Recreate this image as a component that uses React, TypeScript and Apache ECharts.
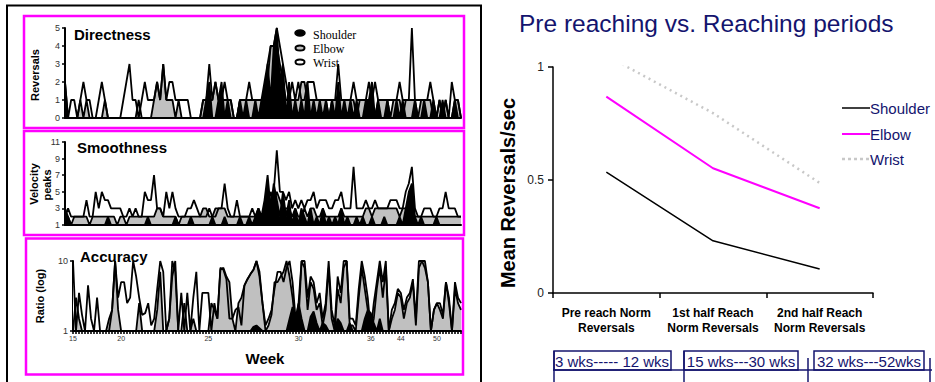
import React, { useEffect, useRef } from "react";
import * as echarts from "echarts";

// ---------- Left panels: sessions (x categories) ----------
const SESSIONS = Array.from({ length: 130 }, (_, i) => String(i + 1));
const WEEK_TICK_INDEX = [0, 16, 45, 75, 99, 109, 121];
const WEEK_TICK_LABEL = ["15", "20", "25", "30", "36", "44", "50"];

// Directness (reversals)
const DIR_WRIST = [
  2, 0, 1, 1, 0, 1, 2, 1, 1, 0,
  0, 1, 2, 1, 0, 0, 0, 0, 0, 1,
  2, 3, 1, 1, 0, 1, 2, 1, 1, 1,
  2, 1, 3, 1, 2, 2, 1, 1, 1, 1,
  1, 0, 0, 0, 0, 1, 1, 3, 1, 2,
  1, 1, 2, 1, 1, 0, 0, 1, 1, 1,
  2, 1, 1, 1, 1, 1, 3, 4, 4, 5,
  4, 3, 2, 1, 2, 1, 2, 1, 1, 2,
  2, 2, 1, 1, 1, 1, 1, 1, 1, 3,
  1, 1, 1, 1, 2, 1, 1, 1, 1, 2,
  1, 2, 1, 1, 1, 1, 1, 1, 1, 2,
  1, 1, 1, 5, 1, 1, 1, 1, 1, 2,
  1, 0, 1, 0, 1, 0, 2, 1, 1, 0,
];
const DIR_ELBOW = [
  1, 0, 0, 0, 0, 1, 0, 1, 0, 0,
  0, 0, 0, 1, 0, 0, 0, 0, 0, 0,
  0, 0, 0, 0, 1, 0, 0, 0, 0, 1,
  2, 1, 3, 1, 1, 1, 0, 1, 0, 0,
  0, 0, 0, 0, 0, 1, 1, 1, 1, 2,
  1, 1, 1, 1, 1, 0, 0, 1, 1, 1,
  1, 1, 1, 1, 1, 1, 2, 4, 4, 4,
  3, 2, 1, 1, 1, 1, 1, 2, 2, 1,
  1, 1, 1, 1, 1, 1, 0, 1, 1, 1,
  1, 1, 1, 1, 1, 0, 1, 1, 1, 1,
  1, 0, 1, 1, 1, 1, 0, 1, 1, 1,
  0, 1, 1, 1, 1, 0, 1, 1, 1, 1,
  0, 0, 1, 0, 1, 0, 0, 1, 1, 0,
];
const DIR_SHOULDER = [
  2, 0, 0, 0, 0, 0, 0, 0, 0, 0,
  0, 0, 0, 0, 0, 0, 0, 0, 0, 0,
  0, 0, 0, 0, 0, 0, 0, 0, 0, 0,
  0, 0, 0, 0, 0, 0, 0, 0, 0, 0,
  0, 0, 0, 0, 0, 0, 1, 2, 0, 0,
  1, 2, 0, 1, 0, 0, 0, 1, 0, 1,
  0, 0, 1, 0, 1, 2, 3, 1, 4, 5,
  2, 3, 0, 2, 0, 1, 0, 1, 0, 2,
  0, 1, 0, 1, 0, 1, 0, 1, 0, 2,
  0, 1, 0, 1, 0, 1, 0, 0, 1, 1,
  2, 0, 1, 0, 0, 1, 0, 0, 1, 0,
  1, 0, 0, 0, 1, 0, 0, 1, 0, 0,
  1, 0, 0, 1, 0, 0, 0, 1, 0, 0,
];

// Smoothness (velocity peaks)
const SMO_WRIST = [
  2, 3, 2, 2, 2, 2, 2, 4, 2, 2,
  5, 3, 5, 4, 4, 3, 3, 3, 3, 2,
  2, 3, 2, 3, 2, 2, 5, 4, 4, 7,
  3, 3, 2, 5, 3, 5, 3, 2, 2, 2,
  3, 3, 4, 3, 2, 2, 2, 3, 2, 2,
  3, 3, 6, 3, 2, 2, 4, 2, 2, 2,
  2, 3, 2, 3, 2, 2, 4, 4, 5, 10,
  5, 5, 4, 5, 3, 4, 3, 4, 3, 4,
  4, 5, 3, 4, 4, 4, 3, 3, 4, 4,
  5, 3, 3, 3, 8, 3, 3, 3, 4, 3,
  3, 4, 3, 3, 3, 3, 4, 4, 4, 3,
  3, 5, 6, 8, 3, 2, 2, 3, 3, 3,
  2, 2, 3, 3, 5, 3, 3, 3, 2, 2,
];
const SMO_ELBOW = [
  2, 2, 1, 2, 2, 2, 2, 2, 1, 2,
  2, 2, 2, 2, 2, 2, 2, 1, 2, 2,
  1, 2, 2, 2, 2, 2, 2, 2, 2, 2,
  3, 3, 2, 2, 2, 2, 2, 1, 2, 2,
  2, 2, 2, 2, 2, 3, 3, 2, 2, 3,
  3, 3, 3, 2, 2, 2, 2, 2, 2, 2,
  2, 2, 2, 2, 2, 2, 3, 5, 4, 5,
  4, 3, 3, 3, 2, 3, 2, 2, 3, 2,
  3, 3, 2, 2, 3, 2, 2, 2, 2, 2,
  3, 2, 2, 2, 2, 2, 2, 2, 3, 3,
  2, 3, 3, 3, 3, 3, 3, 3, 3, 2,
  3, 3, 3, 3, 2, 2, 2, 2, 2, 2,
  2, 2, 2, 2, 2, 2, 2, 2, 2, 2,
];
const SMO_SHOULDER = [
  3, 2, 1, 1, 1, 1, 1, 1, 1, 1,
  1, 1, 1, 1, 2, 1, 1, 1, 1, 1,
  1, 1, 1, 1, 1, 1, 1, 2, 1, 1,
  1, 1, 1, 1, 1, 1, 2, 1, 1, 1,
  1, 2, 1, 1, 1, 1, 1, 1, 2, 1,
  1, 1, 2, 1, 1, 1, 1, 2, 1, 1,
  2, 1, 2, 3, 2, 4, 7, 3, 6, 4,
  2, 5, 2, 4, 1, 3, 1, 3, 2, 1,
  3, 1, 2, 1, 3, 1, 2, 1, 2, 1,
  3, 1, 2, 1, 1, 2, 1, 2, 1, 1,
  2, 1, 1, 1, 2, 1, 1, 1, 1, 2,
  1, 3, 5, 6, 2, 1, 2, 1, 1, 1,
  1, 2, 1, 1, 1, 1, 1, 1, 1, 1,
];

// Accuracy (ratio, log scale)
const ACC_WRIST = [
  10, 1, 3.5, 1.7, 1, 4.5, 1.5, 1, 3, 1,
  1, 1, 1, 2, 10, 3, 5, 5, 2.5, 3,
  10, 6, 3, 1.7, 1.8, 2.5, 1.2, 1.5, 4, 10,
  7, 1, 1.5, 6, 10, 1, 3.5, 1, 3.5, 1,
  3, 7, 1, 3.5, 3.5, 3.5, 1, 2.5, 1.5, 8,
  7.5, 5.5, 1.5, 1.5, 2, 2.2, 1.2, 4.5, 5.5, 6.5,
  7.5, 10, 7, 2.5, 1.2, 1.5, 2, 4, 7, 7,
  5, 8, 10, 5, 1.5, 2.5, 10, 10, 3, 6,
  5, 2.5, 3.5, 1.5, 2.5, 10, 2, 1.2, 6, 3.5,
  10, 10, 1.5, 1.5, 1.2, 4, 10, 6, 3, 1,
  2.5, 5, 10, 5, 10, 1, 2, 2.5, 4, 3.5,
  2, 3, 3.5, 5.5, 1.5, 10, 10, 8, 5, 1,
  2, 2.5, 2.5, 1.7, 5, 3, 1, 5, 3, 2.5,
];
const ACC_ELBOW = [
  1, 3, 1.5, 1, 1, 1, 1, 1, 1, 1,
  1, 1, 1.5, 2, 10, 2, 1, 1, 1, 1,
  1, 1, 2.5, 1, 1, 1, 1, 1, 2, 7,
  1, 1, 1.5, 10, 7, 1, 1, 2.5, 1, 1,
  1.5, 1, 1, 1, 1, 1, 2.5, 2, 1.5, 7.5,
  8, 6, 5, 1.5, 1, 2.5, 3, 4.5, 5.5, 6.5,
  7.5, 10, 6, 2.5, 1, 1.2, 1.7, 5, 5, 6,
  7, 10, 6, 3, 1.2, 1.5, 10, 8, 2, 5,
  4, 2, 2.5, 1.2, 2, 8, 1.5, 1, 4, 2.5,
  8, 10, 1.2, 1.2, 1, 3, 8, 4, 2, 1,
  1.5, 4, 8, 3, 8, 1, 1.5, 2, 3.5, 3,
  1.5, 2.5, 3, 5, 1.2, 8, 10, 10, 5, 1,
  2, 2.5, 2, 1.5, 5, 2.5, 1, 4, 2.5, 2,
];
const ACC_SHOULDER = [
  1, 1, 1, 1, 1, 1, 1, 1, 1, 1,
  1, 1, 1, 1, 1, 1, 1, 1, 1, 1,
  1, 1, 1, 1, 1, 1, 1, 1, 1, 1,
  1, 1, 1, 1, 1, 1, 1, 1, 1, 1,
  1, 1, 1, 1, 1, 1, 1, 1, 1, 1,
  1, 1, 1, 1, 1, 1, 1, 1, 1, 1,
  1.15, 1.2, 1.1, 1, 1, 1, 1, 1, 1, 1,
  1, 1, 1.5, 2.2, 1.3, 2.5, 1.5, 1, 1, 1.6,
  1.9, 1.3, 1, 1.3, 1.2, 1, 1, 1, 1.5, 1.3,
  1, 1, 1.3, 1, 1, 1, 1, 1.5, 2, 1.8,
  1.3, 1, 1.5, 1, 1, 1, 1, 1, 1, 1,
  1, 1, 1, 1, 1, 1, 1, 1, 1, 1,
  1, 1, 1, 1, 1, 1, 1, 1, 1, 1,
];

// ---------- Right chart ----------
const PERIODS = ["Pre reach Norm\nReversals", "1st half Reach\nNorm Reversals", "2nd half Reach\nNorm Reversals"];
const SHOULDER_MEAN = [0.535, 0.231, 0.106];
const ELBOW_MEAN = [0.869, 0.552, 0.375];
const WRIST_MEAN = [1.05, 0.796, 0.487];
const AGE_RANGES = ["3 wks----- 12 wks", "15 wks---30 wks", "32 wks---52wks"];

const NAVY = "#14146e";
const PINK = "#ff00ff";
const SANS = "Arial, 'Liberation Sans', sans-serif";

function areaSeries(name: string, data: number[], fill: string, idx: number) {
  return {
    name,
    type: "line",
    data,
    xAxisIndex: idx,
    yAxisIndex: idx,
    symbol: "none",
    silent: true,
    clip: true,
    lineStyle: { color: "#000", width: 1.8 },
    areaStyle: { color: fill, opacity: 1, origin: "start" },
  };
}

function leftX(idx: number, withTicks: boolean) {
  return {
    type: "category",
    gridIndex: idx,
    data: SESSIONS,
    boundaryGap: false,
    axisLine: { show: true, onZero: false, lineStyle: { color: "#000", width: 2 } },
    axisTick: withTicks
      ? { show: true, interval: 0, length: 3, lineStyle: { color: "#000", width: 1.6 } }
      : { show: false },
    axisLabel: withTicks
      ? {
          show: true,
          interval: (i: number) => WEEK_TICK_INDEX.includes(i),
          formatter: (_v: string, i: number) => {
            const k = WEEK_TICK_INDEX.indexOf(i);
            return k >= 0 ? WEEK_TICK_LABEL[k] : "";
          },
          fontSize: 7,
          color: "#333",
          fontFamily: SANS,
          margin: 4,
        }
      : { show: false },
    splitLine: { show: false },
  };
}

function leftYBase(idx: number) {
  return {
    gridIndex: idx,
    axisLine: { show: true, lineStyle: { color: "#000", width: 2 } },
    axisTick: { show: true, length: 3, lineStyle: { color: "#000", width: 1.5 } },
    axisLabel: { fontSize: 9, color: "#333", fontFamily: SANS, margin: 5 },
    splitLine: { show: false },
  };
}

export default function App() {
  const ref = useRef<HTMLDivElement>(null);
  useEffect(() => {
    if (!ref.current) return;
    const chart = echarts.init(ref.current, null, { renderer: "svg" });
    const rotText = (text: string, x: number, y: number, size: number, bold = true, color = "#000") => ({
      type: "text",
      x,
      y,
      rotation: Math.PI / 2,
      style: {
        text,
        fill: color,
        font: `${bold ? "bold " : ""}${size}px ${SANS}`,
        align: "center",
        verticalAlign: "middle",
      },
      silent: true,
    });
    const txt = (text: string, x: number, y: number, font: string, color = "#000", align = "left") => ({
      type: "text",
      x,
      y,
      style: { text, fill: color, font, align, verticalAlign: "middle" },
      silent: true,
    });
    const box = (x: number, y: number, w: number, h: number, color: string, lw: number) => ({
      type: "rect",
      shape: { x, y, width: w, height: h },
      style: { fill: "none", stroke: color, lineWidth: lw },
      silent: true,
    });
    const ln = (x1: number, y1: number, x2: number, y2: number, color: string, lw: number, dash?: number[]) => ({
      type: "line",
      shape: { x1, y1, x2, y2 },
      style: { stroke: color, lineWidth: lw, lineDash: dash },
      silent: true,
    });

    chart.setOption({
      animation: false,
      backgroundColor: "#fff",
      grid: [
        { left: 65, top: 28, width: 396, height: 90 },
        { left: 65, top: 142, width: 396, height: 83 },
        { left: 73, top: 261, width: 388, height: 70 },
        { left: 553, top: 67, width: 320, height: 226 },
      ],
      xAxis: [
        leftX(0, false),
        leftX(1, false),
        leftX(2, true),
        {
          type: "category",
          gridIndex: 3,
          data: PERIODS,
          boundaryGap: true,
          axisLine: { show: true, lineStyle: { color: "#000", width: 1.5 } },
          axisTick: { show: true, length: 5, lineStyle: { color: "#000", width: 1.5 } },
          axisLabel: {
            fontSize: 12,
            fontWeight: "bold",
            color: "#000",
            fontFamily: SANS,
            lineHeight: 15,
            margin: 12,
            interval: 0,
          },
        },
      ],
      yAxis: [
        { ...leftYBase(0), type: "value", min: 0, max: 5, interval: 1 },
        { ...leftYBase(1), type: "value", min: 1, max: 11, interval: 2 },
        { ...leftYBase(2), type: "log", logBase: 10, min: 1, max: 10 },
        {
          type: "value",
          gridIndex: 3,
          min: 0,
          max: 1,
          interval: 0.5,
          axisLine: { show: true, lineStyle: { color: "#000", width: 1.5 } },
          axisTick: { show: true, length: 5, lineStyle: { color: "#000", width: 1.5 } },
          axisLabel: { fontSize: 12, color: "#222", fontFamily: SANS, margin: 9 },
          splitLine: { show: false },
        },
      ],
      series: [
        areaSeries("Wrist", DIR_WRIST, "#ffffff", 0),
        areaSeries("Elbow", DIR_ELBOW, "#c0c0c0", 0),
        areaSeries("Shoulder", DIR_SHOULDER, "#000000", 0),
        areaSeries("Wrist", SMO_WRIST, "#ffffff", 1),
        areaSeries("Elbow", SMO_ELBOW, "#c0c0c0", 1),
        areaSeries("Shoulder", SMO_SHOULDER, "#000000", 1),
        areaSeries("Wrist", ACC_WRIST, "#ffffff", 2),
        areaSeries("Elbow", ACC_ELBOW, "#c0c0c0", 2),
        areaSeries("Shoulder", ACC_SHOULDER, "#000000", 2),
        {
          name: "Shoulder",
          type: "line",
          xAxisIndex: 3,
          yAxisIndex: 3,
          data: SHOULDER_MEAN,
          symbol: "none",
          lineStyle: { color: "#000", width: 1.5 },
        },
        {
          name: "Elbow",
          type: "line",
          xAxisIndex: 3,
          yAxisIndex: 3,
          data: ELBOW_MEAN,
          symbol: "none",
          lineStyle: { color: PINK, width: 2 },
        },
        {
          name: "Wrist",
          type: "line",
          xAxisIndex: 3,
          yAxisIndex: 3,
          data: WRIST_MEAN,
          symbol: "none",
          clip: true,
          lineStyle: { color: "#c8c8c8", width: 2.5, type: [2, 4] },
        },
      ],
      graphic: [
        // outer black frame of the left figure
        box(7, 5.5, 474, 400, "#000", 2),
        // pink panel boxes
        box(24, 16, 440, 112, PINK, 2.5),
        box(24, 131, 440, 104, PINK, 2.5),
        box(26, 238.5, 437, 136, PINK, 2.5),
        // panel titles
        txt("Directness", 74, 34, `bold 15px ${SANS}`),
        txt("Smoothness", 77, 147, `bold 15px ${SANS}`),
        txt("Accuracy", 80, 256, `bold 15px ${SANS}`),
        txt("Week", 265, 358, `bold 15px ${SANS}`, "#000", "center"),
        // y axis titles of the left panels
        rotText("Reversals", 35, 75, 11),
        rotText("Velocity", 34, 184, 11),
        rotText("peaks", 47, 185, 11),
        rotText("Ratio (log)", 40, 296, 11),
        // legend of the left panels
        {
          type: "ellipse",
          shape: { cx: 300, cy: 33, rx: 5, ry: 3 },
          style: { fill: "#000", stroke: "#000", lineWidth: 1.5 },
          silent: true,
        },
        {
          type: "ellipse",
          shape: { cx: 300, cy: 48, rx: 4.5, ry: 2.5 },
          style: { fill: "#c0c0c0", stroke: "#000", lineWidth: 2 },
          silent: true,
        },
        {
          type: "ellipse",
          shape: { cx: 300, cy: 62, rx: 4.5, ry: 2.5 },
          style: { fill: "#fff", stroke: "#000", lineWidth: 2 },
          silent: true,
        },
        txt("Shoulder", 313, 35, "12px 'Liberation Serif', 'Times New Roman', serif"),
        txt("Elbow", 313, 49, "12px 'Liberation Serif', 'Times New Roman', serif"),
        txt("Wrist", 313, 63, "12px 'Liberation Serif', 'Times New Roman', serif"),
        // right chart title and y axis title
        txt("Pre reaching vs. Reaching periods", 519, 23, `24.5px ${SANS}`, NAVY),
        rotText("Mean Reversals/sec", 508, 193, 20),
        // right legend
        ln(842, 108, 870, 108, "#000", 1.5),
        ln(842, 134, 870, 134, PINK, 2),
        ln(842, 159, 870, 159, "#c8c8c8", 2.5, [3, 3]),
        txt("Shoulder", 870, 108, `15px ${SANS}`, NAVY),
        txt("Elbow", 870, 134, `15px ${SANS}`, NAVY),
        txt("Wrist", 870, 159, `15px ${SANS}`, NAVY),
        // age range boxes
        box(554, 351, 117, 19, NAVY, 1.5),
        box(684, 351, 114, 19, NAVY, 1.5),
        box(814, 351, 110, 19, NAVY, 1.5),
        txt(AGE_RANGES[0], 612, 361, `15px ${SANS}`, NAVY, "center"),
        txt(AGE_RANGES[1], 741, 361, `15px ${SANS}`, NAVY, "center"),
        txt(AGE_RANGES[2], 869, 361, `15px ${SANS}`, NAVY, "center"),
        ln(553, 370, 932, 370, NAVY, 1.5),
        ln(554, 351, 554, 382, NAVY, 1.5),
        ln(684, 351, 684, 382, NAVY, 1.5),
        ln(808, 358, 808, 382, NAVY, 1.5),
        ln(930, 358, 930, 382, NAVY, 1.5),
      ],
    });
    return () => chart.dispose();
  }, []);
  return (
    <div
      ref={ref}
      style={{ position: "absolute", left: 0, top: 0, width: 935, height: 382, background: "#fff" }}
    />
  );
}
